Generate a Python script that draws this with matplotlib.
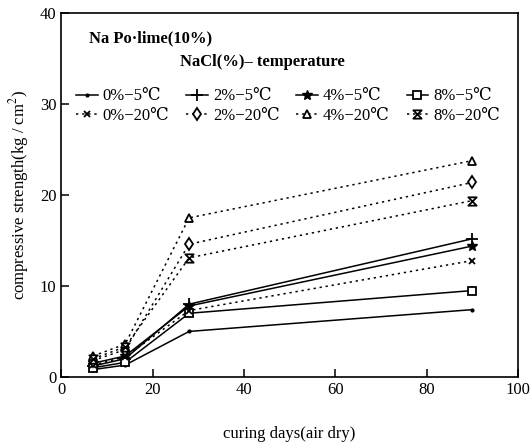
import matplotlib.pyplot as plt
from matplotlib.path import Path
import numpy as np

plt.rcParams['font.family'] = ['Liberation Serif', 'DejaVu Serif', 'Noto Sans CJK SC']
plt.rcParams['mathtext.fontset'] = 'stix'

days = [7, 14, 28, 90]

# compressive strength, kg/cm2
s_0_5 = [0.8, 1.3, 5.0, 7.4]
s_2_5 = [1.2, 2.0, 8.0, 15.2]
s_4_5 = [1.5, 2.3, 7.8, 14.4]
s_8_5 = [1.0, 1.6, 7.0, 9.5]
s_0_20 = [1.3, 2.2, 7.3, 12.8]
s_2_20 = [1.8, 3.0, 14.6, 21.4]
s_4_20 = [2.3, 3.6, 17.5, 23.8]
s_8_20 = [2.0, 3.3, 13.1, 19.4]

labels = ['0%−5℃', '2%−5℃', '4%−5℃', '8%−5℃',
          '0%−20℃', '2%−20℃', '4%−20℃', '8%−20℃']

hourglass = Path([(-1, 1), (1, 1), (-1, -1), (1, -1), (-1, 1)],
                 [Path.MOVETO, Path.LINETO, Path.LINETO, Path.LINETO, Path.CLOSEPOLY])

fig = plt.figure(figsize=(5.32, 4.46), dpi=100)
ax = fig.add_axes([0.115, 0.155, 0.859, 0.815])

k = dict(color='black', lw=1.1)
d = dict(color='black', lw=1.1, ls=(0, (1.5, 2.5)))
h = {}
h[0] = ax.plot(days, s_0_5, marker='.', ms=4, **k)[0]
h[1] = ax.plot(days, s_2_5, marker='+', ms=8, mew=1.3, **k)[0]
h[2] = ax.plot(days, s_4_5, marker='*', ms=7, **k)[0]
h[3] = ax.plot(days, s_8_5, marker='s', ms=6, mfc='white', mew=1.3, **k)[0]
h[4] = ax.plot(days, s_0_20, marker='x', ms=5, mew=1.3, **d)[0]
h[5] = ax.plot(days, s_2_20, marker='d', ms=6, mfc='white', mew=1.3, **d)[0]
h[6] = ax.plot(days, s_4_20, marker='^', ms=6, mfc='white', mew=1.3, **d)[0]
h[7] = ax.plot(days, s_8_20, marker=hourglass, ms=6, mfc='white', mew=1.3, **d)[0]

order = [0, 4, 1, 5, 2, 6, 3, 7]
ax.legend([h[i] for i in order], [labels[i] for i in order], ncol=4,
          frameon=False, loc='upper left', bbox_to_anchor=(0.0, 0.835),
          handlelength=1.3, handletextpad=0.3, columnspacing=1.0,
          labelspacing=0.2, fontsize=12)

ax.text(0.06, 0.92, 'Na Po·lime(10%)', transform=ax.transAxes, fontsize=12, fontweight='bold')
ax.text(0.26, 0.855, 'NaCl(%)– temperature', transform=ax.transAxes, fontsize=12, fontweight='bold')

ax.set_xlim(0, 100)
ax.set_ylim(0, 40)
ax.set_xticks([0, 20, 40, 60, 80, 100])
ax.set_yticks([0, 10, 20, 30, 40])
ax.tick_params(direction='in', length=6, labelsize=12, width=1.1)
for sp in ax.spines.values():
    sp.set_linewidth(1.2)

ax.set_xlabel('curing days(air dry)', fontsize=12, labelpad=20)
ax.set_ylabel('compressive strength(kg / cm$^2$)', fontsize=12, labelpad=6)

fig.savefig('out.png', dpi=100)
